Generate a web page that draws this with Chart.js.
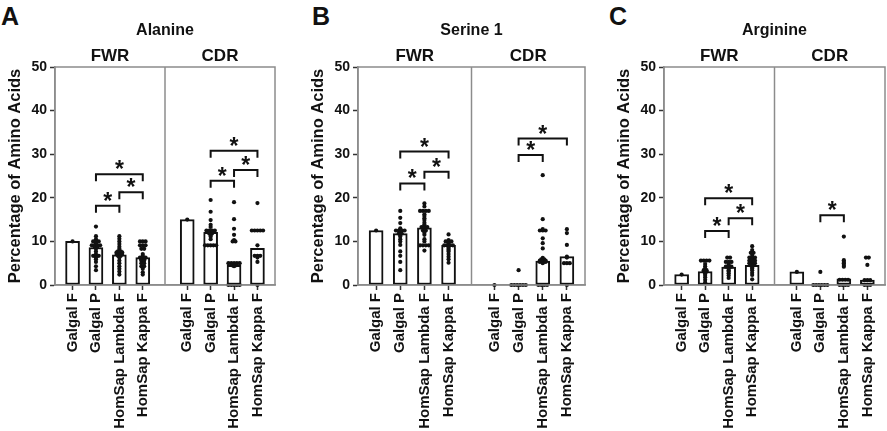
<!DOCTYPE html>
<html>
<head>
<meta charset="utf-8">
<script src="https://cdn.jsdelivr.net/npm/chart.js@4.4.1/dist/chart.umd.min.js"></script>
<style>
	body { margin: 0; width: 887px; height: 431px; overflow: hidden; background: #fff; position: relative; }
	canvas { position: absolute; top: 0; }
	.letter { position: absolute; top: 4px; font: bold 25px/25px "Liberation Sans", Arial, sans-serif; color: #111; }
</style>
</head>
<body>
<div class="letter" style="left:1px">A</div>
<div class="letter" style="left:312px">B</div>
<div class="letter" style="left:609px">C</div>
<canvas id="alanine" width="279" height="431" style="left:0px"></canvas>
<canvas id="serine" width="286" height="431" style="left:303px"></canvas>
<canvas id="arginine" width="280" height="431" style="left:609px"></canvas>
<script>
// shared labels
const categories = ['Galgal F', 'Galgal P', 'HomSap Lambda F', 'HomSap Kappa F'];
const regions = ['FWR', 'CDR'];
const yTicks = [0, 10, 20, 30, 40, 50];

// A - Alanine (FWR x4, then CDR x4)
const alanineMeans = [10, 8.6, 6.9, 6.3, 15, 12.1, 4.5, 8.4];
const alaninePoints = [
	[10],
	[13.4, 11.2, 10.5, 10, 10, 10, 9.5, 9.1, 9.1, 9.1, 9.1, 8.7, 8.7, 8.3, 7.7, 7.1, 6.7, 6.7, 6.7, 6.3, 5.9, 5.3, 4.3, 3.4],
	[11.2, 10.6, 10, 9.4, 8.8, 8.3, 7.7, 7.7, 7.5, 7.5, 7.5, 7.1, 7.1, 7.1, 6.7, 6.7, 6.3, 5.6, 5, 4.3, 3.7, 3.1, 2.4],
	[10, 10, 10, 9.1, 9.1, 9.1, 8.3, 8.3, 7.1, 6.7, 6.3, 6.3, 6.3, 5.9, 5.9, 5.6, 5.6, 5, 5, 4.3, 4.3, 3.7, 2.9, 2.4],
	[15],
	[19.5, 16.8, 14.9, 13.8, 13.3, 12.5, 12.5, 12.5, 12.5, 12.1, 12.1, 11.8, 11.8, 11.5, 11.1, 10.5, 9.1, 9.1, 9.1, 9.1, 9.1],
	[19, 15.1, 12.9, 11.5, 10.3, 10, 10, 5, 5, 5, 5, 5, 4.8, 4.8, 4.5, 4.5, 4.3, 0, 0, 0, 0, 0],
	[18.8, 12.5, 12.5, 12.5, 12.5, 12.5, 9.1, 6.7, 6.7, 6.7, 6.3, 5.3, 0]
];
// [from group, to group, bracket height]
const alanineStars = [[1, 2, 18.2], [2, 3, 21.3], [1, 3, 25.4], [5, 6, 23.9], [6, 7, 26.4], [5, 7, 30.8]];

// B - Serine 1
const serineMeans = [12.5, 11.8, 13.1, 9.1, 0, 0.2, 5.5, 6.5];
const serinePoints = [
	[12.5],
	[17, 15.4, 14.2, 13, 12.5, 12.5, 12.5, 12.5, 12.2, 11.8, 11.8, 11.5, 11.1, 10.5, 10, 9.2, 7.7, 6.7, 5.3, 3.4],
	[18.7, 18, 17, 17, 17, 17, 16.2, 15.8, 15.3, 14.9, 14.3, 13.8, 13.6, 13.3, 13.3, 13.3, 12.5, 12.5, 12, 11.5, 10.5, 10, 9.1, 9.1, 9.1, 9.1, 7.9],
	[11.6, 10.3, 10, 10, 10, 9.5, 9.1, 9.1, 9.1, 9.1, 8.7, 8.3, 8, 7.7, 7.1, 6.5, 5.9, 5.1],
	[0],
	[3.4, 0, 0, 0, 0, 0, 0],
	[25.2, 15.1, 12.8, 12.5, 12.5, 12.5, 10.7, 9.6, 8.4, 6.2, 5.9, 5.9, 5.6, 5.6, 5.6, 5.3, 5.3, 5.3, 5, 0, 0, 0, 0],
	[12.8, 11.9, 9.2, 6.5, 6.3, 5, 5, 5, 0]
];
const serineStars = [[1, 2, 23.3], [2, 3, 26], [1, 3, 30.6], [5, 6, 29.8], [5, 7, 33.6]];

// C - Arginine
const arginineMeans = [2.4, 3.1, 4.1, 4.5, 3, 0.2, 1.4, 1.1];
const argininePoints = [
	[2.4],
	[5.6, 5.6, 5.6, 5.6, 4.8, 4.3, 3.8, 3.4, 3.4, 3.1, 3.1, 2.9, 2.7, 2.3, 1.8, 1.2, 0.6],
	[6.3, 6.3, 5.3, 5.3, 5.3, 4.8, 4.5, 4.2, 4.2, 4.2, 3.8, 3.4, 3.1, 2.7, 2.2, 1.6],
	[8.9, 8, 7.4, 7.4, 6.9, 6.3, 6.3, 6.3, 5.9, 5.6, 5.6, 5.6, 5.3, 5, 5, 5, 4.8, 4.5, 4.5, 4.2, 3.8, 3.4, 2.8, 2.3, 1.3],
	[3],
	[3, 0, 0, 0, 0, 0, 0],
	[11.1, 5.7, 5.3, 5, 4.6, 4.2, 1.2, 1.2, 1.2, 1.2, 0, 0, 0, 0],
	[6.3, 6.3, 4.6, 1.1, 1.1, 1.1, 0, 0, 0]
];
const arginineStars = [[1, 2, 12.4], [2, 3, 15.3], [1, 3, 19.9], [5, 6, 16]];

////////////////////////////////////////////

const FONT = '"Liberation Sans", Arial, sans-serif';
const INK = '#111';
const FRAME = '#8c8c8c';
const X_MAX = 9.4;
const DIVIDER = 4.7;
const SPREAD = 0.12; // sideways step for repeated values, like a dot plot

// group index -> position on the x axis (gap between FWR and CDR)
function xOf(i) {
	return 0.75 + i + (i >= 4 ? 0.9 : 0);
}

const panelText = {
	id: 'panelText',
	afterDraw(chart, args, opts) {
		const ctx = chart.ctx;
		const area = chart.chartArea;
		const xs = chart.scales.x;
		const ys = chart.scales.y;
		ctx.save();

		// frame and FWR/CDR divider
		ctx.strokeStyle = FRAME;
		ctx.lineWidth = 1.5;
		ctx.strokeRect(area.left, area.top, area.right - area.left, area.bottom - area.top);
		const dx = xs.getPixelForValue(DIVIDER);
		ctx.beginPath();
		ctx.moveTo(dx, area.top);
		ctx.lineTo(dx, area.bottom);
		ctx.stroke();

		// significance brackets
		ctx.strokeStyle = INK;
		ctx.lineWidth = 2;
		ctx.fillStyle = INK;
		ctx.textAlign = 'center';
		ctx.textBaseline = 'alphabetic';
		opts.stars.forEach(b => {
			const x1 = xs.getPixelForValue(xOf(b[0]));
			const x2 = xs.getPixelForValue(xOf(b[1]));
			const y = ys.getPixelForValue(b[2]);
			ctx.beginPath();
			ctx.moveTo(x1, y + 7);
			ctx.lineTo(x1, y);
			ctx.lineTo(x2, y);
			ctx.lineTo(x2, y + 7);
			ctx.stroke();
			ctx.font = 'bold 23px ' + FONT;
			ctx.fillText('*', (x1 + x2) / 2, y + 3);
		});

		// titles
		ctx.font = 'bold 16px ' + FONT;
		ctx.fillText(opts.title, (area.left + area.right) / 2, 35);
		ctx.font = 'bold 17px ' + FONT;
		ctx.fillText(regions[0], (area.left + dx) / 2, 61);
		ctx.fillText(regions[1], (dx + area.right) / 2, 61);

		// y axis title
		ctx.translate(area.left - 35, (area.top + area.bottom) / 2);
		ctx.rotate(-Math.PI / 2);
		ctx.font = 'bold 16.5px ' + FONT;
		ctx.fillText('Percentage of Amino Acids', 0, 0);
		ctx.restore();
	}
};

function makePanel(id, title, means, points, stars) {
	const barData = means.map((v, i) => ({x: xOf(i), y: v}));
	// repeated values sit side by side instead of on top of each other
	const dotData = [];
	points.forEach((list, i) => {
		const seen = {};
		list.forEach(v => {
			const n = list.filter(w => w === v).length;
			const k = seen[v] || 0;
			seen[v] = k + 1;
			dotData.push({x: xOf(i) + (k - (n - 1) / 2) * SPREAD, y: v});
		});
	});

	new Chart(document.getElementById(id), {
		type: 'bar',
		data: {
			datasets: [{
				type: 'scatter',
				data: dotData,
				pointRadius: 2.1,
				pointStyle: 'circle',
				backgroundColor: INK,
				borderWidth: 0,
				clip: 4,
				order: 1
			}, {
				type: 'bar',
				data: barData,
				backgroundColor: '#fff',
				borderColor: INK,
				borderWidth: 2,
				borderSkipped: false,
				barThickness: 14,
				order: 2
			}]
		},
		options: {
			responsive: false,
			animation: false,
			devicePixelRatio: 1,
			layout: {padding: {top: 67, right: 4, left: 0, bottom: 0}},
			plugins: {
				legend: {display: false},
				tooltip: {enabled: false},
				panelText: {title: title, stars: stars}
			},
			scales: {
				x: {
					type: 'linear',
					min: 0,
					max: X_MAX,
					offset: false,
					afterBuildTicks: s => { s.ticks = means.map((v, i) => ({value: xOf(i)})); },
					afterFit: s => { s.height = 146; },
					ticks: {
						autoSkip: false,
						minRotation: 90,
						maxRotation: 90,
						padding: 3,
						color: INK,
						font: {family: FONT, size: 15, weight: 'bold'},
						callback: (v, i) => categories[i % 4]
					},
					grid: {drawOnChartArea: false, offset: false, tickLength: 5, tickColor: '#333', tickWidth: 1.5},
					border: {color: FRAME, width: 1.5}
				},
				y: {
					min: 0,
					max: 50,
					afterBuildTicks: s => { s.ticks = yTicks.map(v => ({value: v})); },
					afterFit: s => { s.width = 55; },
					ticks: {
						padding: 3,
						color: INK,
						font: {family: FONT, size: 14, weight: 'bold'}
					},
					grid: {drawOnChartArea: false, tickLength: 5, tickColor: '#333', tickWidth: 1.5},
					border: {color: FRAME, width: 1.5}
				}
			}
		},
		plugins: [panelText]
	});
}

window.onload = () => {
	makePanel('alanine', 'Alanine', alanineMeans, alaninePoints, alanineStars);
	makePanel('serine', 'Serine 1', serineMeans, serinePoints, serineStars);
	makePanel('arginine', 'Arginine', arginineMeans, argininePoints, arginineStars);
};
</script>
</body>
</html>
